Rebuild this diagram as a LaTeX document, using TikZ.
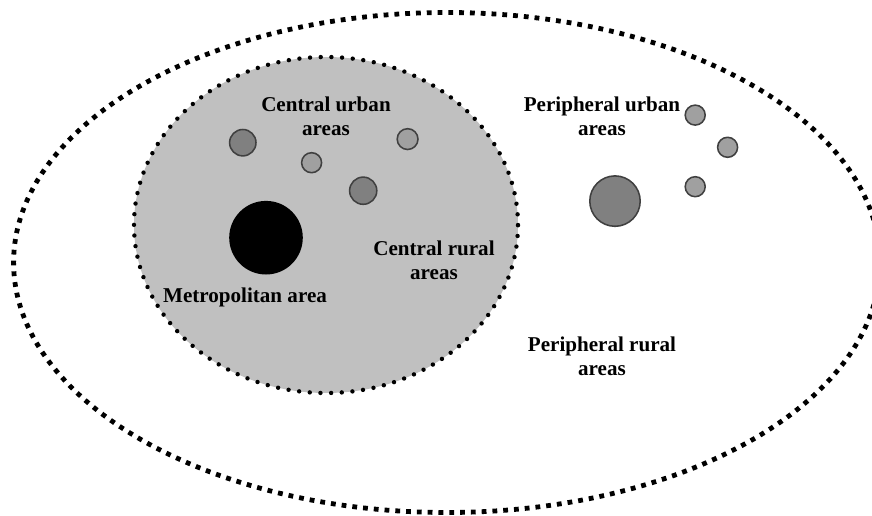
\documentclass[tikz,border=0pt]{standalone}
\usepackage{fontspec}
\setmainfont{Liberation Serif}
\usepackage{tikz}
\definecolor{zonegray}{HTML}{C0C0C0}
\definecolor{towndark}{HTML}{808080}
\definecolor{townlight}{HTML}{A0A0A0}
\definecolor{townrim}{HTML}{404040}

\begin{document}
\begin{tikzpicture}[
    outerzone/.style={line width=0.12cm, dash pattern=on 0.12cm off 0.15cm},
    innerzone/.style={fill=zonegray, line width=0.11cm, line cap=round, dash pattern=on 0pt off 0.267cm},
    bigtown/.style={fill=towndark, draw=townrim, line width=1.1pt},
    smalltown/.style={fill=townlight, draw=townrim, line width=1.1pt},
    zonelabel/.style={align=center, font=\fontsize{15}{17}\selectfont\bfseries, inner sep=0pt}
  ]
  \useasboundingbox (-10.9,-6.4375) rectangle (10.9,6.4375);
  % zones
  \draw[outerzone] (0.27,-0.125) ellipse (10.83 and 6.25);
  \draw[innerzone] (-2.75,0.8125) ellipse (4.8 and 4.2);
  % central towns
  \draw[bigtown] (-4.83,2.87) circle (0.33);
  \draw[smalltown] (-3.11,2.37) circle (0.25);
  \draw[smalltown] (-0.71,2.96) circle (0.26);
  \draw[bigtown] (-1.82,1.67) circle (0.34);
  \fill[black] (-4.25,0.495) circle (0.92);
  % peripheral towns
  \draw[bigtown] (4.475,1.41) circle (0.63);
  \draw[smalltown] (6.48,3.56) circle (0.25);
  \draw[smalltown] (7.29,2.755) circle (0.25);
  \draw[smalltown] (6.48,1.77) circle (0.25);
  % labels
  \node[zonelabel] (cu) at (-2.75,3.525) {Central urban\\areas};
  \node[zonelabel] (pu) at (4.15,3.525) {Peripheral urban\\areas};
  \node[zonelabel] (cr) at (-0.05,-0.075) {Central rural\\areas};
  \node[zonelabel] (metro) at (-4.775,-0.99) {Metropolitan area};
  \node[zonelabel] (pr) at (4.15,-2.475) {Peripheral rural\\areas};
\end{tikzpicture}
\end{document}
